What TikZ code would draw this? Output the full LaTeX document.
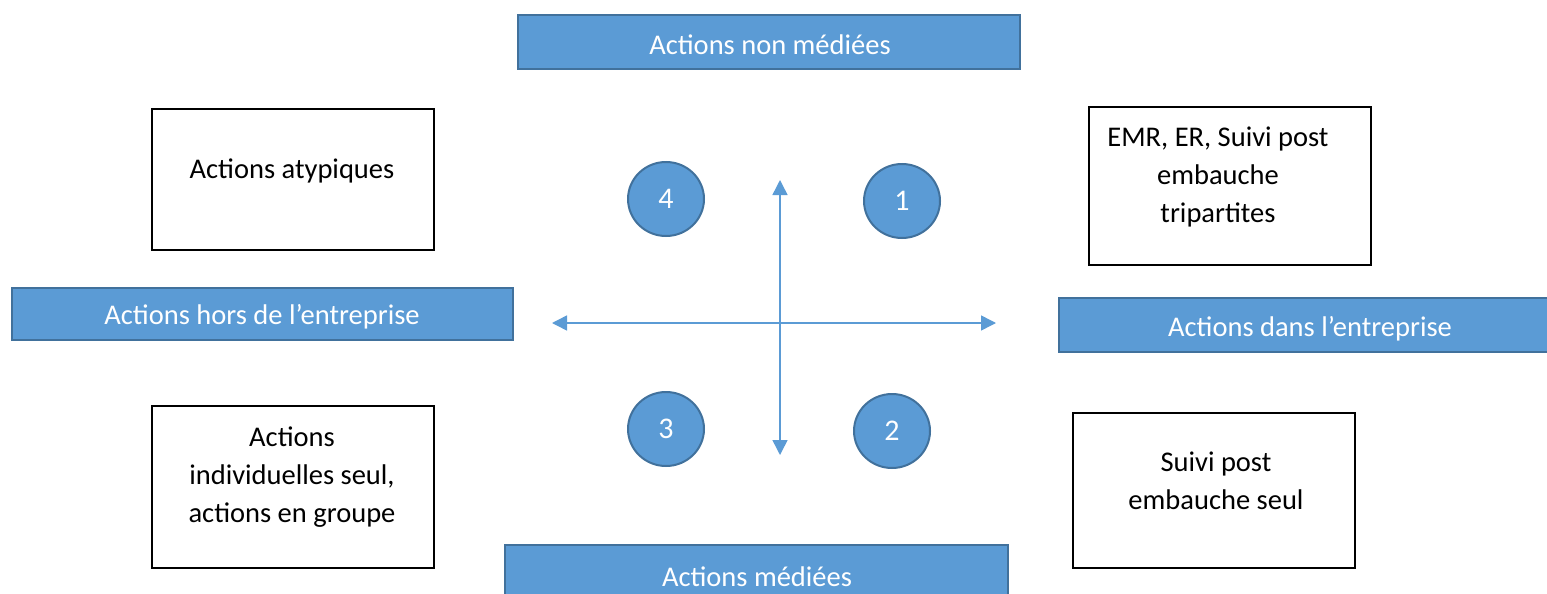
\documentclass[tikz,border=0pt]{standalone}
\usepackage{fontspec}
\setmainfont{Carlito}
\usetikzlibrary{arrows.meta,calc,shapes.geometric}
\definecolor{accent}{HTML}{5B9BD5}
\definecolor{accentdark}{HTML}{41719C}
\newcommand{\numfont}{\fontsize{30}{34}\selectfont}
\tikzset{
  bluebox/.style={draw=accentdark, line width=2pt, fill=accent, text=white, inner sep=0pt},
  whitebox/.style={draw=black, line width=1.6pt, fill=white, inner sep=0pt},
  numcircle/.style={ellipse, draw=accentdark, line width=2pt, fill=accent, text=white, minimum width=76pt, minimum height=74pt, inner sep=0pt},
  boxtext/.style={align=center, font=\fontsize{28.5}{38}\selectfont, inner sep=0pt},
  bluetext/.style={font=\fontsize{28.5}{34}\selectfont, text=white, inner sep=0pt},
  axis/.style={draw=accent, line width=1.5pt, {Triangle[length=15pt,width=15pt]}-{Triangle[length=15pt,width=15pt]}}
}
\begin{document}
\begin{tikzpicture}[x=1pt,y=-1pt]
\useasboundingbox (0,0) rectangle (1547,594);
% blue boxes
\path[bluebox] (518,15) rectangle (1020,69);
\node[bluetext] (top) at (770,45) {Actions non médiées};
\path[bluebox] (12,288) rectangle (513,340);
\node[bluetext] (left) at (262,317) {Actions hors de l’entreprise};
\path[bluebox] (1059,298) rectangle (1551,352);
\node[bluetext] (right) at (1310,329) {Actions dans l’entreprise};
\path[bluebox] (505,545) rectangle (1008,600);
\node[bluetext] (bottom) at (757,577) {Actions médiées};
% white boxes
\path[whitebox] (152,109) rectangle (434,250);
\node[boxtext] (tl) at (292,171) {Actions atypiques};
\path[whitebox] (1089,107) rectangle (1371,265);
\node[boxtext] (tr) at (1218,177) {EMR, ER, Suivi post\\embauche\\tripartites};
\path[whitebox] (152,406) rectangle (434,568);
\node[boxtext] (bl) at (292,477) {Actions\\individuelles seul,\\actions en groupe};
\path[whitebox] (1073,413) rectangle (1355,568);
\node[boxtext] (br) at (1216,481) {Suivi post\\embauche seul};
% circles
\node[numcircle] (c4) at (666,199) {\numfont 4};
\node[numcircle] (c1) at (902,201) {\numfont 1};
\node[numcircle] (c3) at (666,429) {\numfont 3};
\node[numcircle] (c2) at (892,431) {\numfont 2};
% axes
\coordinate (vt) at (780,180);
\coordinate (vb) at (780,455);
\coordinate (hl) at (552,323);
\coordinate (hr) at (996,323);
\draw[axis] (vb) -- (vt);
\draw[axis] (hl) -- (hr);
\end{tikzpicture}
\end{document}
